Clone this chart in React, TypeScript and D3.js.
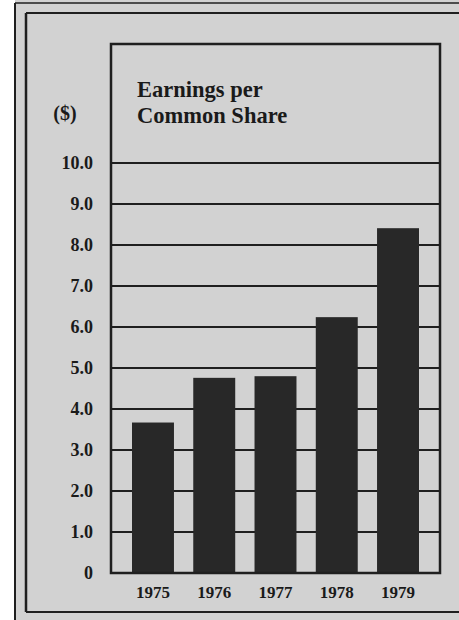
import React from "react";
import * as d3 from "d3";

const years = ["1975", "1976", "1977", "1978", "1979"];
const earnings = [3.67, 4.76, 4.8, 6.24, 8.41];
const yTicks = [0, 1, 2, 3, 4, 5, 6, 7, 8, 9, 10];
const titleLines = ["Earnings per", "Common Share"];
const unitLabel = "($)";

const W = 459;
const H = 620;
const FONT = "'Liberation Serif', 'Times New Roman', serif";

export default function App() {
  const x = d3.scaleBand<string>().domain(years).range([132, 419]).paddingInner(0.315).paddingOuter(0);
  const y = d3.scaleLinear().domain([0, 10]).range([573, 163]);
  const frameL = 111;
  const frameR = 440;
  const frameT = 44;
  const ink = "#1f1f1f";

  return (
    <svg width={W} height={H} style={{ position: "absolute", left: 0, top: 0, background: "#ffffff" }}>
      <rect x={15} y={0} width={W - 15} height={H} fill="#d2d2d2" />
      {/* outer double frame */}
      <line x1={15} x2={W} y1={3} y2={3} stroke={ink} strokeWidth={1.5} />
      <line x1={15} x2={15} y1={3} y2={H} stroke={ink} strokeWidth={2} />
      <line x1={26} x2={W} y1={13} y2={13} stroke={ink} strokeWidth={2} />
      <line x1={26} x2={26} y1={13} y2={612} stroke={ink} strokeWidth={2.5} />
      <line x1={26} x2={W} y1={612} y2={612} stroke={ink} strokeWidth={2} />

      {/* gridlines */}
      {yTicks.map((t) => (
        <line key={t} x1={frameL} x2={frameR} y1={y(t)} y2={y(t)} stroke={ink} strokeWidth={2} />
      ))}

      {/* bars */}
      {years.map((yr, i) => (
        <rect key={yr} x={x(yr)} y={y(earnings[i])} width={x.bandwidth()} height={y(0) - y(earnings[i])} fill="#282828" />
      ))}

      {/* inner frame */}
      <rect x={frameL} y={frameT} width={frameR - frameL} height={y(0) - frameT} fill="none" stroke={ink} strokeWidth={2.5} />

      {/* title */}
      {titleLines.map((t, i) => (
        <text key={t} x={137} y={97 + i * 26} fontFamily={FONT} fontWeight="bold" fontSize={22.5} fill="#1a1a1a">
          {t}
        </text>
      ))}
      <text x={65} y={120} textAnchor="middle" fontFamily={FONT} fontWeight="bold" fontSize={20} fill="#1a1a1a">
        {unitLabel}
      </text>

      {/* y tick labels */}
      {yTicks.map((t) => (
        <text key={t} x={93} y={y(t)} dy="0.35em" textAnchor="end" fontFamily={FONT} fontWeight="bold" fontSize={18} fill="#1a1a1a">
          {t === 0 ? "0" : d3.format(".1f")(t)}
        </text>
      ))}

      {/* x labels */}
      {years.map((yr) => (
        <text key={yr} x={(x(yr) as number) + x.bandwidth() / 2} y={598} textAnchor="middle" fontFamily={FONT} fontWeight="bold" fontSize={17} fill="#1a1a1a">
          {yr}
        </text>
      ))}
    </svg>
  );
}
